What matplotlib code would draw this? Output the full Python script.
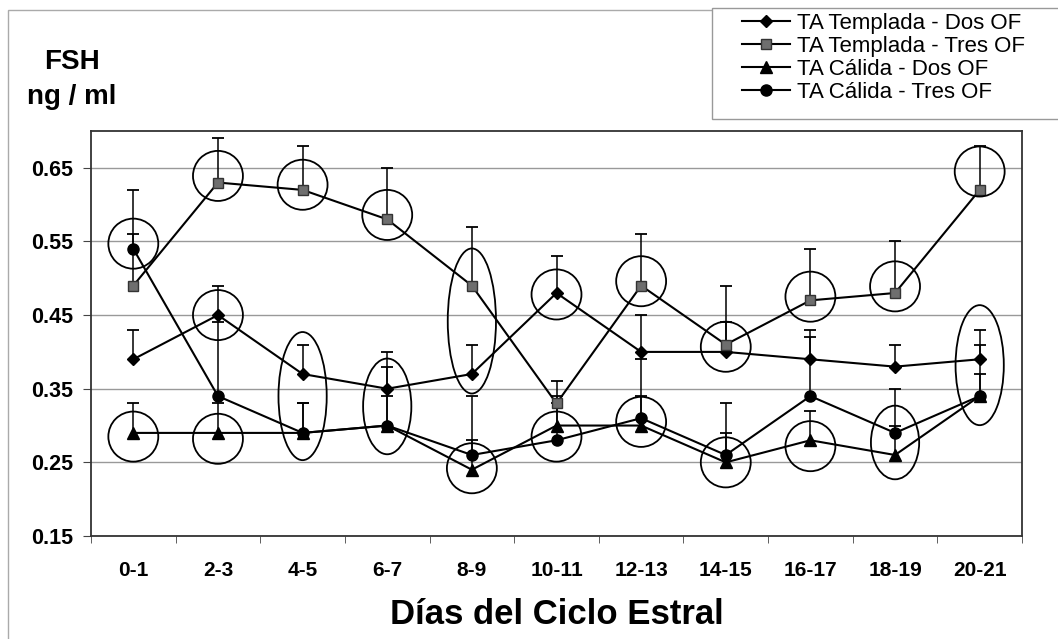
import numpy as np
import matplotlib.pyplot as plt
from matplotlib.patches import Ellipse, Rectangle
from matplotlib.lines import Line2D

plt.rcParams['font.family'] = ['Liberation Sans', 'DejaVu Sans']

categories = ['0-1', '2-3', '4-5', '6-7', '8-9', '10-11',
              '12-13', '14-15', '16-17', '18-19', '20-21']

templada_dos = [0.39, 0.45, 0.37, 0.35, 0.37, 0.48, 0.40, 0.40, 0.39, 0.38, 0.39]
templada_dos_err = [0.04, 0.04, 0.04, 0.05, 0.04, 0.05, 0.05, 0.04, 0.04, 0.03, 0.04]

templada_tres = [0.49, 0.63, 0.62, 0.58, 0.49, 0.33, 0.49, 0.41, 0.47, 0.48, 0.62]
templada_tres_err = [0.07, 0.06, 0.06, 0.07, 0.08, 0.03, 0.07, 0.08, 0.07, 0.07, 0.06]

calida_dos = [0.29, 0.29, 0.29, 0.30, 0.24, 0.30, 0.30, 0.25, 0.28, 0.26, 0.34]
calida_dos_err = [0.04, 0.04, 0.04, 0.04, 0.04, 0.04, 0.04, 0.04, 0.04, 0.04, 0.03]

calida_tres = [0.54, 0.34, 0.29, 0.30, 0.26, 0.28, 0.31, 0.26, 0.34, 0.29, 0.34]
calida_tres_err = [0.08, 0.10, 0.04, 0.08, 0.08, 0.05, 0.08, 0.07, 0.08, 0.06, 0.07]

# hand drawn rings on the original: (category, centre, height in ng/ml)
rings = [
    ('0-1', 0.547, 0.068), ('0-1', 0.285, 0.068),
    ('2-3', 0.639, 0.068), ('2-3', 0.450, 0.068), ('2-3', 0.282, 0.068),
    ('4-5', 0.627, 0.068), ('4-5', 0.340, 0.174),
    ('6-7', 0.586, 0.068), ('6-7', 0.326, 0.130),
    ('8-9', 0.442, 0.197), ('8-9', 0.242, 0.068),
    ('10-11', 0.478, 0.068), ('10-11', 0.285, 0.068),
    ('12-13', 0.496, 0.068), ('12-13', 0.305, 0.068),
    ('14-15', 0.407, 0.068), ('14-15', 0.250, 0.068),
    ('16-17', 0.475, 0.068), ('16-17', 0.272, 0.068),
    ('18-19', 0.489, 0.068), ('18-19', 0.277, 0.100),
    ('20-21', 0.645, 0.068), ('20-21', 0.382, 0.163),
]

series = [
    ('TA Templada - Dos OF', templada_dos, templada_dos_err, 'D', 6.5, 'black'),
    ('TA Templada - Tres OF', templada_tres, templada_tres_err, 's', 7, '#6e6e6e'),
    ('TA Cálida - Dos OF', calida_dos, calida_dos_err, '^', 8, 'black'),
    ('TA Cálida - Tres OF', calida_tres, calida_tres_err, 'o', 8, 'black'),
]

W, H = 1058, 639
fig = plt.figure(figsize=(W / 100, H / 100), dpi=100)
ax = fig.add_axes([91 / W, 103 / H, 931 / W, 405 / H])

x = np.arange(len(categories))

handles = []
for label, vals, errs, mk, ms, fc in series:
    vals = np.array(vals)
    tops = vals + np.array(errs)
    ec = '#333333' if mk == 's' else 'black'
    ax.vlines(x, vals, tops, color='black', lw=1.1, zorder=3)
    ax.plot(x, tops, ls='none', marker='_', ms=9, mew=1.3, color='black', zorder=3)
    ax.plot(x, vals, color='black', lw=1.5, marker=mk, ms=ms,
            mfc=fc, mec=ec, zorder=4)
    handles.append(Line2D([], [], color='black', lw=1.5, marker=mk, ms=ms,
                          mfc=fc, mec=ec))

for cat, yc, h in rings:
    w = 0.59 if h < 0.07 else 0.57
    ax.add_patch(Ellipse((categories.index(cat), yc), w, h, fill=False,
                         ec='black', lw=1.3, zorder=5))

ax.set_xlim(-0.5, len(categories) - 0.5)
ax.set_ylim(0.15, 0.70)
ax.set_yticks([0.15, 0.25, 0.35, 0.45, 0.55, 0.65])
ax.set_yticklabels(['0.15', '0.25', '0.35', '0.45', '0.55', '0.65'],
                   fontsize=15.5, fontweight='bold')
ax.set_xticks(x)
ax.set_xticklabels(categories, fontsize=15, fontweight='bold')
ax.set_xticks(np.arange(-0.5, len(categories), 1), minor=True)
ax.tick_params(axis='x', which='major', length=0, pad=18)
ax.tick_params(axis='x', which='minor', length=5, color='#444444')
ax.tick_params(axis='y', length=6, pad=7, color='#444444')
ax.grid(axis='y', color='#999999', lw=1.0)
ax.set_axisbelow(True)
for s in ax.spines.values():
    s.set_color('#333333')
    s.set_linewidth(1.3)

fig.text(72 / W, 1 - 62 / H, 'FSH', fontsize=20, fontweight='bold',
         ha='center', va='center')
fig.text(72 / W, 1 - 97 / H, 'ng / ml', fontsize=20, fontweight='bold',
         ha='center', va='center')
fig.text(557 / W, 1 - 614 / H, 'Días del Ciclo Estral', fontsize=25,
         fontweight='bold', ha='center', va='center')

# outer chart border and legend box
fig.patches.append(Rectangle((8 / W, -0.1), 1.2, 1 - 10 / H + 0.1,
                             transform=fig.transFigure, fill=False,
                             ec='#aaaaaa', lw=1.0))
fig.patches.append(Rectangle((712 / W, 1 - 119 / H), 0.5, 111 / H,
                             transform=fig.transFigure, fc='white',
                             ec='#999999', lw=1.0, zorder=2))

fig.legend(handles, [s[0] for s in series], loc='upper left',
           bbox_to_anchor=(726 / W, 1 + 3 / H), frameon=False,
           fontsize=16, labelspacing=0.1, handlelength=2.2,
           handletextpad=0.3, borderpad=0.2)

fig.savefig('out.png', dpi=100)
